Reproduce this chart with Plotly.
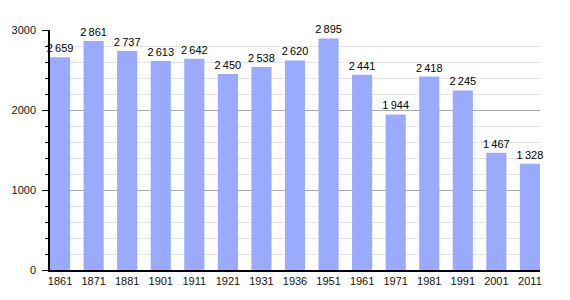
import plotly.graph_objects as go

years = ["1861", "1871", "1881", "1901", "1911", "1921", "1931", "1936",
         "1951", "1961", "1971", "1981", "1991", "2001", "2011"]
population = [2659, 2861, 2737, 2613, 2642, 2450, 2538, 2620,
              2895, 2441, 1944, 2418, 2245, 1467, 1328]

labels = [f"{v:,}".replace(",", "\u2009") for v in population]

fig = go.Figure(go.Bar(
    x=years, y=population, text=labels, textposition="outside",
    cliponaxis=False, constraintext="none",
    textfont=dict(size=11, color="#000"),
    marker=dict(color="#99aaff", line=dict(width=0)),
))

fig.update_layout(
    width=570, height=300,
    margin=dict(l=50, r=30, t=30, b=30),
    paper_bgcolor="white", plot_bgcolor="white",
    font=dict(family="Liberation Sans, Arial, sans-serif", size=11, color="#111"),
    bargap=0.4,
    showlegend=False,
)
fig.update_xaxes(
    type="category", range=[-0.3, 14.3],
    showline=True, linecolor="#000", linewidth=1.5,
    ticks="", showgrid=False, tickfont=dict(size=11),
)
fig.update_yaxes(
    range=[0, 3000], dtick=1000, tick0=0,
    showline=True, linecolor="#000", linewidth=1.5,
    ticks="outside", ticklen=6, tickcolor="#000",
    ticklabelstandoff=4,
    showgrid=True, gridcolor="#aaaaaa", gridwidth=1,
    zeroline=False,
    minor=dict(dtick=200, ticks="outside", ticklen=3, tickcolor="#000",
               showgrid=True, gridcolor="#e4e4e4", gridwidth=1),
    tickfont=dict(size=11),
)

fig.write_html("out.html")
